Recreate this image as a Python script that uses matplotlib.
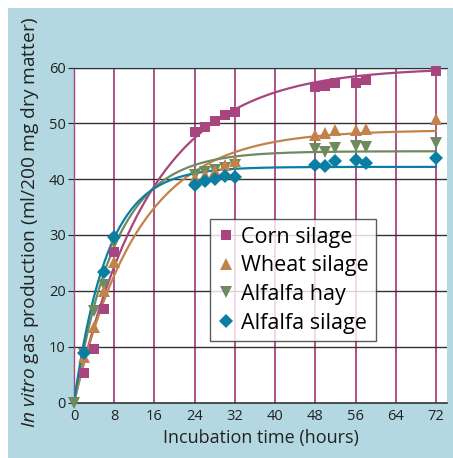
import matplotlib.pyplot as plt
import numpy as np
from matplotlib.patches import Rectangle
import matplotlib

matplotlib.rcParams['font.family'] = 'Open Sans'
matplotlib.rcParams['mathtext.fontset'] = 'custom'
matplotlib.rcParams['mathtext.it'] = 'Open Sans:italic'
matplotlib.rcParams['mathtext.rm'] = 'Open Sans'

# measured points (hours, ml/200 mg DM)
corn_t = [2, 4, 6, 8, 24, 26, 28, 30, 32, 48, 50, 52, 56, 58, 72]
corn_y = [5.3, 9.5, 16.7, 27.0, 48.4, 49.3, 50.4, 51.5, 52.1, 56.5, 56.7, 57.3, 57.3, 57.7, 59.3]

wheat_t = [2, 4, 6, 8, 24, 26, 28, 30, 32, 48, 50, 52, 56, 58, 72]
wheat_y = [8.2, 13.5, 19.9, 25.2, 40.2, 40.8, 41.4, 42.6, 43.3, 47.9, 48.2, 48.8, 48.8, 49.0, 50.7]

hay_t = [0, 2, 4, 6, 8, 24, 26, 28, 30, 32, 48, 50, 52, 56, 58, 72]
hay_y = [0, 8.6, 16.4, 21.0, 28.6, 40.8, 41.2, 41.6, 42.0, 42.6, 45.4, 44.8, 45.6, 46.0, 45.7, 46.4]

silage_t = [2, 6, 8, 24, 26, 28, 30, 32, 48, 50, 52, 56, 58, 72]
silage_y = [8.9, 23.3, 29.6, 39.0, 39.6, 40.0, 40.5, 40.4, 42.6, 42.3, 43.3, 43.5, 42.9, 43.8]

# fitted curves: asymptote and rate (y = A*(1-exp(-k*t)))
corn_fit = (60.0, 0.065)
wheat_fit = (48.8, 0.0785)
hay_fit = (45.0, 0.121)
silage_fit = (42.2, 0.15)

labels = ["Corn silage", "Wheat silage", "Alfalfa hay", "Alfalfa silage"]
colors = ["#a8447e", "#c2834a", "#6e8a5e", "#0a7fa2"]
markers = ["s", "^", "v", "D"]
msizes = [7.5, 9, 9, 7.5]
mz = [4.2, 4.3, 4.1, 4.4]

fig = plt.figure(figsize=(4.53, 4.58), dpi=100)
fig.patches.append(Rectangle((8/453, 0), 1, 450/458, transform=fig.transFigure,
                             facecolor="#b3d8e2", edgecolor="none", zorder=-10))

ax = fig.add_axes([74/453, 1 - 402.5/458, 373/453, 335/458])
ax.set_facecolor("white")

tt = np.linspace(0, 72, 300)
series = [(corn_t, corn_y, corn_fit), (wheat_t, wheat_y, wheat_fit),
          (hay_t, hay_y, hay_fit), (silage_t, silage_y, silage_fit)]
for i, (t, y, fit) in enumerate(series):
    A, k = fit
    ax.plot(tt, A * (1 - np.exp(-k * tt)), color=colors[i], lw=1.6, zorder=3)
for i, (t, y, fit) in enumerate(series):
    ax.plot(t, y, linestyle="none", marker=markers[i], color=colors[i],
            markersize=msizes[i], label=labels[i], zorder=mz[i], clip_on=False,
            markeredgewidth=0)

ax.set_xlim(0, 74.2)
ax.set_ylim(0, 60)
ax.set_xticks(range(0, 73, 8))
ax.set_yticks(range(0, 61, 10))

for x in range(8, 73, 8):
    ax.axvline(x, color="#a8447e", lw=1.3, zorder=1)
for y in range(10, 61, 10):
    ax.axhline(y, color="#333333", lw=1.0, zorder=1)

ax.spines['right'].set_visible(False)
ax.spines['left'].set_color("#a8447e")
ax.spines['left'].set_linewidth(1.0)
ax.spines['top'].set_color("#333333")
ax.spines['bottom'].set_color("#333333")
ax.spines['bottom'].set_linewidth(1.2)

ax.tick_params(axis="x", length=0, pad=5, labelsize=10.5, colors="#222222")
ax.tick_params(axis="y", length=4, width=0.8, pad=2, labelsize=10.5, colors="#222222")

ax.set_xlabel("Incubation time (hours)", fontsize=13, color="#222222", labelpad=3)
fig.text(30/453, 1 - 222/458, r"$\it{In\ vitro}$ gas production (ml/200 mg dry matter)",
         rotation=90, ha="center", va="center", fontsize=13.8, color="#222222")

leg = ax.legend(loc="upper left", bbox_to_anchor=((210-74)/373, (402.5-219)/335),
                frameon=True, fancybox=False, fontsize=15.5, handlelength=0.8,
                handletextpad=0.3, borderpad=0.35, labelspacing=0.36,
                borderaxespad=0)
leg.get_frame().set_edgecolor("#333333")
leg.get_frame().set_linewidth(1.0)
leg.set_zorder(6)

fig.savefig("out.png", dpi=100)
